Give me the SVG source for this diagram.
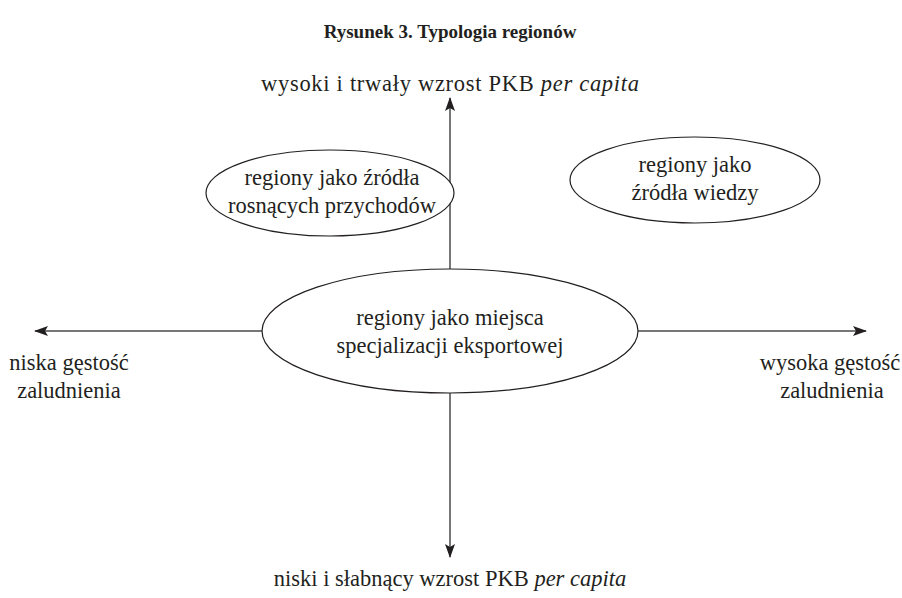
<svg xmlns="http://www.w3.org/2000/svg" width="902" height="598" viewBox="0 0 902 598">
<style>
text{font-family:"Liberation Serif","DejaVu Serif",serif;fill:#231f20;font-size:22.5px;text-anchor:middle}
.title{font-weight:bold;font-size:19px}
.axis{stroke:#4a4a4a;stroke-width:1.5;fill:none}
.node ellipse{fill:#fff;stroke:#231f20;stroke-width:1.2}
</style>
<defs>
<marker id="ah" viewBox="0 0 14 10" refX="13" refY="5" markerWidth="14" markerHeight="10" markerUnits="userSpaceOnUse" orient="auto">
<path d="M0,0 L14,5 L0,10 L3,5 Z" fill="#231f20"/>
</marker>
</defs>
<text class="title" x="450" y="38">Rysunek 3. Typologia regionów</text>
<g id="connectors">
<line class="axis" x1="450" y1="331" x2="450" y2="98" marker-end="url(#ah)"/>
<line class="axis" x1="450" y1="331" x2="450" y2="557" marker-end="url(#ah)"/>
<line class="axis" x1="450" y1="331" x2="35" y2="331" marker-end="url(#ah)"/>
<line class="axis" x1="450" y1="331" x2="866" y2="331" marker-end="url(#ah)"/>
</g>
<g id="label-top"><text x="450" y="91" textLength="378" lengthAdjust="spacing">wysoki i trwały wzrost PKB <tspan font-style="italic">per capita</tspan></text></g>
<g id="label-bottom"><text x="450" y="586">niski i słabnący wzrost PKB <tspan font-style="italic">per capita</tspan></text></g>
<g id="label-left"><text x="69" y="370">niska gęstość</text><text x="69" y="398">zaludnienia</text></g>
<g id="label-right"><text x="830" y="370">wysoka gęstość</text><text x="832" y="398">zaludnienia</text></g>
<g id="node-przychody" class="node">
<ellipse cx="330" cy="193" rx="124" ry="43"/>
<text x="332" y="185">regiony jako źródła</text>
<text x="332" y="213">rosnących przychodów</text>
</g>
<g id="node-wiedza" class="node">
<ellipse cx="695" cy="180" rx="125" ry="43"/>
<text x="695" y="172">regiony jako</text>
<text x="695" y="200">źródła wiedzy</text>
</g>
<g id="node-eksport" class="node">
<ellipse cx="450" cy="331" rx="188" ry="62"/>
<text x="450" y="325">regiony jako miejsca</text>
<text x="450" y="353">specjalizacji eksportowej</text>
</g>
</svg>
